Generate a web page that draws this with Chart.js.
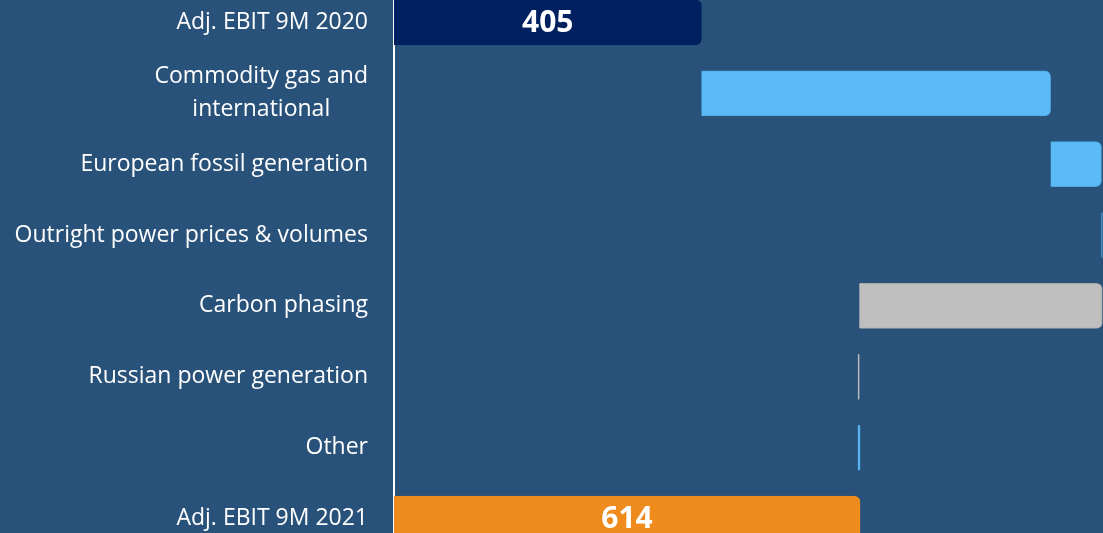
<!DOCTYPE html>
<html>
<head>
<meta charset="utf-8">
<script src="https://cdn.jsdelivr.net/npm/chart.js@4/dist/chart.umd.min.js"></script>
<style>
  html, body { margin: 0; padding: 0; background: #29527a; overflow: hidden; }
  body { width: 1103px; height: 533px; position: relative; }
  #chart { position: absolute; left: 0; top: -13px; }
</style>
</head>
<body>
<canvas id="chart" width="1103" height="567"></canvas>
<script>
// bridge steps, EUR m
const categories = [
    'Adj. EBIT 9M 2020',
    ['Commodity gas and', 'international'],
    'European fossil generation',
    'Outright power prices & volumes',
    'Carbon phasing',
    'Russian power generation',
    'Other',
    'Adj. EBIT 9M 2021'
];
const startValue = 405;
const deltas = [460, 67, 1, -320, -2, 3];
const endValue = 614;

const totalColors = ['#002060', '#ee8b1c'];
const upColor = '#5bbbf7';
const downColor = '#bfbfbf';

document.addEventListener('DOMContentLoaded', () => {
    // build floating bars [from, to]
    const bars = [[0, startValue]];
    const colors = [totalColors[0]];
    const borders = [totalColors[0]];
    let running = startValue;
    deltas.forEach(d => {
        bars.push([running, running + d]);
        colors.push(d >= 0 ? upColor : downColor);
        borders.push(d >= 0 ? '#4fa6e0' : '#a9a9a9');
        running += d;
    });
    bars.push([0, endValue]);
    colors.push(totalColors[1]);
    borders.push(totalColors[1]);

    // value labels on the two totals
    const totalLabels = {
        id: 'totalLabels',
        afterDatasetsDraw(chart) {
            const ctx = chart.ctx;
            const meta = chart.getDatasetMeta(0);
            ctx.save();
            ctx.fillStyle = '#ffffff';
            ctx.font = 'bold 30px "Open Sans"';
            ctx.textAlign = 'center';
            ctx.textBaseline = 'middle';
            [0, meta.data.length - 1].forEach(i => {
                const pt = meta.data[i].getCenterPoint();
                ctx.fillText(String(bars[i][1]), pt.x, pt.y + 1);
            });
            ctx.restore();
        }
    };

    // category labels: block right-aligned, lines centred within the block
    const categoryLabels = {
        id: 'categoryLabels',
        afterDraw(chart) {
            const ctx = chart.ctx;
            const yScale = chart.scales.y;
            const right = yScale.right - 26;
            const lineH = 33;
            ctx.save();
            ctx.fillStyle = '#ffffff';
            ctx.font = '23px "Open Sans"';
            ctx.textAlign = 'center';
            ctx.textBaseline = 'middle';
            categories.forEach((cat, i) => {
                const lines = Array.isArray(cat) ? cat : [cat];
                const w = Math.max(...lines.map(l => ctx.measureText(l).width));
                const cx = right - w / 2;
                const y0 = yScale.getPixelForValue(i) - (lines.length - 1) * lineH / 2;
                lines.forEach((l, j) => ctx.fillText(l, cx, y0 + j * lineH));
            });
            ctx.restore();
        }
    };

    new Chart(document.getElementById('chart').getContext('2d'), {
        type: 'bar',
        data: {
            labels: categories,
            datasets: [{
                data: bars,
                backgroundColor: colors,
                borderColor: borders,
                borderWidth: 1,
                borderRadius: 6,
                borderSkipped: 'start',
                barThickness: 45
            }]
        },
        options: {
            indexAxis: 'y',
            responsive: false,
            animation: false,
            layout: { padding: 0 },
            scales: {
                x: {
                    display: false,
                    min: 0,
                    max: 934
                },
                y: {
                    afterFit: scale => { scale.width = 394; },
                    grid: { display: false, drawTicks: false },
                    border: { display: true, color: '#ffffff', width: 2 },
                    ticks: { display: false }
                }
            },
            plugins: {
                legend: { display: false },
                tooltip: { enabled: false }
            }
        },
        plugins: [totalLabels, categoryLabels]
    });
});
</script>
</body>
</html>
